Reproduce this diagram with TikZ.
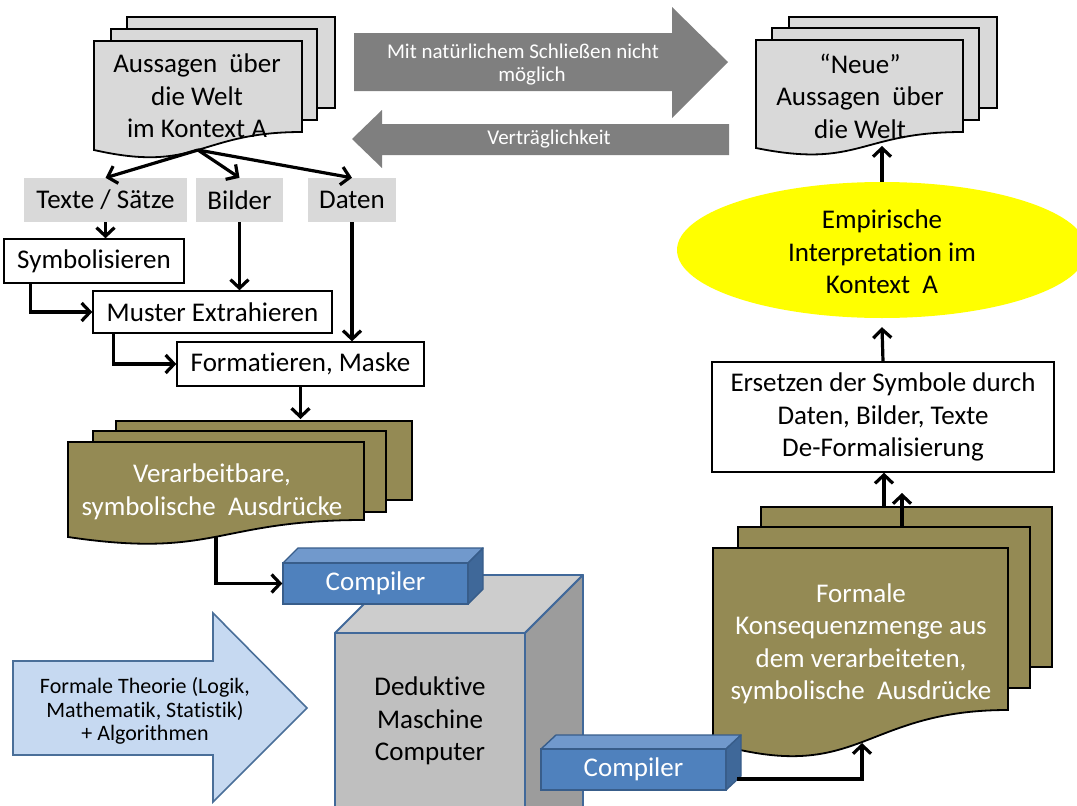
\documentclass[tikz,border=0pt]{standalone}
\usepackage{fontspec}
\setmainfont{Carlito}[Ligatures={TeX,NoCommon}]
\usetikzlibrary{arrows.meta,shapes.geometric}

\definecolor{sheetgray}{HTML}{D9D9D9}
\definecolor{arrowgray}{HTML}{7F7F7F}
\definecolor{olive}{HTML}{948A54}
\definecolor{cfront}{HTML}{4F81BD}
\definecolor{ctop}{HTML}{7199CC}
\definecolor{cside}{HTML}{3F6899}
\definecolor{cedge}{HTML}{385D8A}
\definecolor{mfront}{HTML}{BFBFBF}
\definecolor{mtop}{HTML}{CDCDCD}
\definecolor{mside}{HTML}{9C9C9C}
\definecolor{medge}{HTML}{41699A}
\definecolor{lightblue}{HTML}{C6D9F1}
\definecolor{lbedge}{HTML}{4A6F99}
\definecolor{brightyellow}{HTML}{FFFF00}

\begin{document}
\begin{tikzpicture}[x=1pt,y=-1pt,
  big/.style={font=\fontsize{27}{32.5}\selectfont},
  small/.style={font=\fontsize{21}{24}\selectfont},
  theory/.style={font=\fontsize{22}{23.5}\selectfont},
  conn/.style={line width=3.2pt,line join=miter,-{Straight Barb[length=8.5pt,width=18pt]}},
  sheet/.style={line width=1.8pt,draw=black},
  lbl/.style={big,fill=sheetgray,inner sep=0pt,minimum height=44pt},
  stepbox/.style={big,draw=black,line width=1.4pt,fill=white,inner sep=0pt,align=center},
  cpface/.style={draw=cedge,line width=1.4pt,line join=round},
  mface/.style={draw=medge,line width=1.8pt,line join=round},
]
\useasboundingbox (0,0) rectangle (1077,806);
\clip (0,0) rectangle (1077,806);

% ---------- source statements (stacked sheets) ----------
\fill[sheetgray] (127,17) rectangle (335,108);
\draw[sheet] (127,17) rectangle (335,108);
\fill[sheetgray] (111,29) rectangle (317,120);
\draw[sheet] (111,29) rectangle (317,120);
\draw[sheet,fill=sheetgray] (94,41) -- (302,41) -- (302,132)
  .. controls (198,132) and (198,173.6) .. (94,150) -- cycle;
\node[big,align=center] (aussagen) at (197,96) {Aussagen~ über\\die Welt\\im Kontext A};
\coordinate (srcbottom) at (198,150);

% ---------- new statements (stacked sheets) ----------
\fill[sheetgray] (789,17) rectangle (997,108);
\draw[sheet] (789,17) rectangle (997,108);
\fill[sheetgray] (772,28) rectangle (979,120);
\draw[sheet] (772,28) rectangle (979,120);
\draw[sheet,fill=sheetgray] (756,40) -- (963,40) -- (963,132)
  .. controls (859.5,132) and (859.5,169) .. (756,148) -- cycle;
\node[big,align=center] (neue) at (860,96) {“Neue”\\Aussagen~ über\\die Welt};
\coordinate (neuebottom) at (882,146);

% ---------- grey block arrows ----------
\fill[arrowgray] (354,33) -- (672,33) -- (672,7) -- (728,62) -- (672,118) -- (672,91) -- (354,91) -- cycle;
\node[small,text=white] (schluss1) at (523,51) {Mit natürlichem Schließen nicht};
\node[small,text=white] (schluss2) at (532,76) {möglich};
\fill[arrowgray] (729,124) -- (382,124) -- (382,110) -- (352,139) -- (382,168) -- (382,155) -- (729,155) -- cycle;
\node[small,text=white] (vertraeglich) at (549,139) {Verträglichkeit};

% ---------- input kinds ----------
\node[lbl,minimum width=163pt] (texte) at (105.5,200) {Texte / Sätze};
\node[lbl,minimum width=87pt] (bilder) at (239.5,200) {Bilder};
\node[lbl,minimum width=88pt] (daten) at (352,200) {Daten};

\draw[conn] (srcbottom) -- (texte.north);
\draw[conn] (srcbottom) -- (bilder.north);
\draw[conn] (srcbottom) -- (daten.north);

% ---------- preparation steps ----------
\node[stepbox,minimum width=180pt,minimum height=44pt] (symb) at (94,261) {Symbolisieren};
\node[stepbox,minimum width=239pt,minimum height=42pt] (muster) at (212.5,312) {Muster Extrahieren};
\node[stepbox,minimum width=247pt,minimum height=44pt] (format) at (300.5,364) {Formatieren, Maske};

\draw[conn] (texte.south) -- (texte.south |- symb.north);
\draw[conn] ([xshift=27pt]symb.south west) |- (muster.west);
\draw[conn] (bilder.south) -- (bilder.south |- muster.north);
\draw[conn] ([xshift=21pt]muster.south west) |- (format.west);
\draw[conn] (daten.south) -- (daten.south |- format.north);

% ---------- processable expressions (olive sheets) ----------
\draw[sheet,fill=olive] (116,421) rectangle (412,500);
\draw[sheet,fill=olive] (93,431) rectangle (386,512);
\draw[sheet,fill=olive] (68,442) -- (364,442) -- (364,520)
  .. controls (216,520) and (216,559) .. (68,537) -- cycle;
\node[big,align=center,text=white] (verarb) at (212,492) {Verarbeitbare,\\symbolische~ Ausdrücke};
\coordinate (olivetop) at (300.5,419);
\coordinate (olivebottom) at (216,537);
\draw[conn] (format.south) -- (olivetop);

% ---------- deductive machine (box in perspective) ----------
\filldraw[mface,fill=mtop] (335,633) -- (393,575) -- (583,575) -- (525,633) -- cycle;
\filldraw[mface,fill=mside] (525,633) -- (583,575) -- (583,830) -- (525,830) -- cycle;
\filldraw[mface,fill=mfront] (335,633) rectangle (525,830);
\node[big,align=center] (machine) at (430,721) {Deduktive\\Maschine\\Computer};

% ---------- first compiler ----------
\filldraw[cpface,fill=ctop] (283,563) -- (298,548) -- (483,548) -- (468,563) -- cycle;
\filldraw[cpface,fill=cside] (468,563) -- (483,548) -- (483,589) -- (468,604) -- cycle;
\node[big,text=white,fill=cfront,draw=cedge,line width=1.4pt,inner sep=0pt,
  minimum width=185pt,minimum height=41pt] (comp1) at (375.5,583.5) {Compiler};
\draw[conn] (olivebottom) |- (comp1.west);

% ---------- formal theory arrow ----------
\filldraw[fill=lightblue,draw=lbedge,line width=1.6pt,line join=miter]
  (13,661) -- (213,661) -- (213,613) -- (307,708) -- (213,802) -- (213,755) -- (13,755) -- cycle;
\node[theory,align=center] (theorie) at (145,711) {Formale Theorie (Logik,\\Mathematik, Statistik)\\+ Algorithmen};

% ---------- consequence set (olive sheets) ----------
\draw[sheet,fill=olive] (761,507) rectangle (1052,667);
\draw[sheet,fill=olive] (738,527) rectangle (1030,688);
\draw[sheet,fill=olive] (713,548) -- (1008,548) -- (1008,710)
  .. controls (860.5,710) and (860.5,786) .. (713,743) -- cycle;
\node[big,align=center,text=white] (konseq) at (861,644) {Formale\\Konsequenzmenge aus\\dem verarbeiteten,\\symbolische~ Ausdrücke};
\coordinate (konsbottom) at (862,743);
\coordinate (backtop) at (884,507);
\coordinate (midtop) at (902,527);
\coordinate (midtip) at (902,493);

% ---------- second compiler ----------
\filldraw[cpface,fill=ctop] (541,749) -- (556,735) -- (741,735) -- (726,749) -- cycle;
\filldraw[cpface,fill=cside] (726,749) -- (741,735) -- (741,776) -- (726,790) -- cycle;
\node[big,text=white,fill=cfront,draw=cedge,line width=1.4pt,inner sep=0pt,
  minimum width=185pt,minimum height=41pt] (comp2) at (633.5,769.5) {Compiler};
\coordinate (comp2out) at (737,779);
\draw[conn] (comp2out) -| (konsbottom);

% ---------- de-formalisation and interpretation ----------
\node[stepbox,minimum width=342pt,minimum height=110pt] (ersetzen) at (883,417)
  {Ersetzen der Symbole durch\\Daten, Bilder, Texte\\De-Formalisierung};
\draw[conn] (backtop) -- (backtop |- ersetzen.south);
\draw[conn] (midtop) -- (midtip);

\node[ellipse,fill=brightyellow,inner sep=0pt,minimum width=410pt,minimum height=136pt] (emp) at (882,250) {};
\node[big,align=center] (emptext) at (882,252) {Empirische\\Interpretation im\\Kontext~ A};
\draw[conn] (ersetzen.north) -- ([yshift=-9pt]emp.south);
\draw[conn] (emp.north) -- (neuebottom);
\end{tikzpicture}
\end{document}
